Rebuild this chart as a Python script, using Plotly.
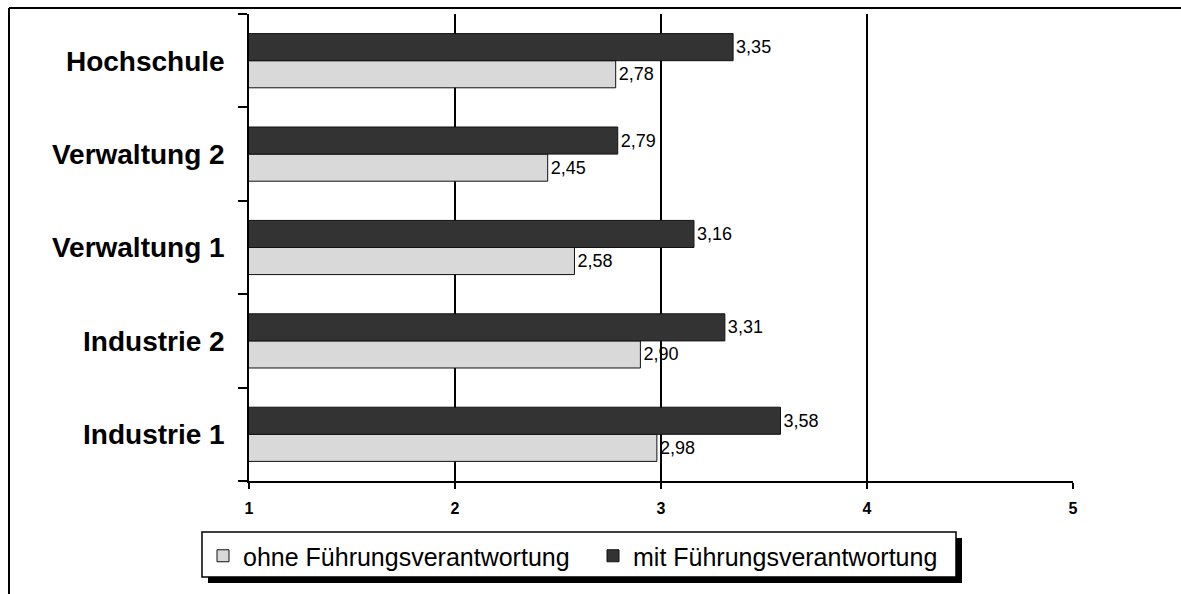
import plotly.graph_objects as go

# Survey results: mean rating per organisation, split by leadership responsibility
categories = ["Industrie 1", "Industrie 2", "Verwaltung 1", "Verwaltung 2", "Hochschule"]
ohne_fuehrung = [2.98, 2.90, 2.58, 2.45, 2.78]
mit_fuehrung = [3.58, 3.31, 3.16, 2.79, 3.35]
series_names = ["ohne Führungsverantwortung", "mit Führungsverantwortung"]
x_ticks = [1, 2, 3, 4, 5]

FONT = "Arial, Liberation Sans, sans-serif"
W, H = 1181, 594
ML, MR, MT, MB = 249, 108, 14, 113
PW, PH = W - ML - MR, H - MT - MB


def px_x(px):
    return (px - ML) / PW


def px_y(py):
    return (H - MB - py) / PH


fig = go.Figure()
for name, vals, color in [
    (series_names[0], ohne_fuehrung, "#d9d9d9"),
    (series_names[1], mit_fuehrung, "#333333"),
]:
    fig.add_trace(go.Bar(
        y=categories, x=vals, orientation="h", name=name,
        marker=dict(color=color, line=dict(color="#111111", width=1)),
        texttemplate="%{x:.2f}", textposition="outside", cliponaxis=False,
        constraintext="none",
        textfont=dict(family=FONT, size=18, color="#000000"),
    ))

# legend frame with drop shadow (legend entries are drawn on top)
lx0, ly0, lx1, ly1 = 202, 532, 956, 577
fig.add_shape(type="rect", xref="paper", yref="paper",
              x0=px_x(lx0 + 6), x1=px_x(lx1 + 6), y0=px_y(ly1 + 6), y1=px_y(ly0 + 6),
              fillcolor="#000000", line=dict(width=0), layer="above")
fig.add_shape(type="rect", xref="paper", yref="paper",
              x0=px_x(lx0), x1=px_x(lx1), y0=px_y(ly1), y1=px_y(ly0),
              fillcolor="#ffffff", line=dict(color="#000000", width=1.5), layer="above")
# outer chart frame
fig.add_shape(type="line", xref="paper", yref="paper",
              x0=px_x(9), x1=px_x(1185), y0=px_y(8), y1=px_y(8),
              line=dict(color="#000000", width=2))
fig.add_shape(type="line", xref="paper", yref="paper",
              x0=px_x(9), x1=px_x(9), y0=px_y(8), y1=px_y(600),
              line=dict(color="#000000", width=2))

fig.update_layout(
    width=W, height=H,
    margin=dict(l=ML, r=MR, t=MT, b=MB, pad=0),
    paper_bgcolor="#ffffff", plot_bgcolor="#ffffff",
    separators=",.",
    barmode="group", bargap=0.42, bargroupgap=0,
    font=dict(family=FONT, color="#000000"),
    showlegend=True,
    legend=dict(
        orientation="h", x=px_x(lx0 + 1), y=px_y(ly0 + 1), xanchor="left", yanchor="top",
        bgcolor="rgba(0,0,0,0)", borderwidth=0,
        font=dict(family=FONT, size=25, color="#000000"),
        traceorder="normal", entrywidth=345, entrywidthmode="pixels",
    ),
    xaxis=dict(
        range=[1, 5], tickvals=x_ticks, ticktext=[str(t) for t in x_ticks],
        showgrid=True, gridcolor="#000000", gridwidth=1.5,
        showline=True, linecolor="#000000", linewidth=1.5,
        ticks="outside", ticklen=6, tickcolor="#000000", tickwidth=1.5,
        tickfont=dict(family=FONT, size=16, color="#000000", weight="bold"),
        ticklabelstandoff=6, zeroline=False,
    ),
    yaxis=dict(
        type="category", categoryorder="array", categoryarray=categories,
        showline=True, linecolor="#000000", linewidth=1.5,
        ticks="outside", tickson="boundaries", ticklen=9,
        tickcolor="#000000", tickwidth=1.5, showgrid=False,
        tickfont=dict(family=FONT, size=28, color="#000000", weight="bold"),
        ticklabelstandoff=17,
    ),
)

fig.write_html("out.html")
